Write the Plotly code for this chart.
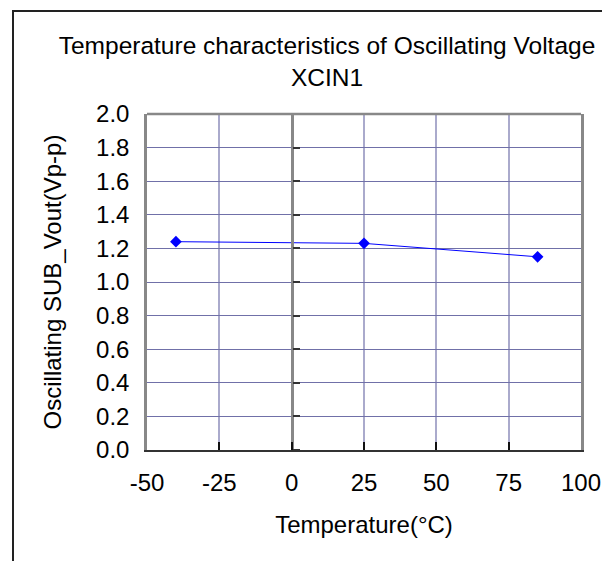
import plotly.graph_objects as go

# ---- data ----
temperature_c = [-40, 25, 85]
vout_vpp = [1.24, 1.23, 1.15]
x_ticks = [-50, -25, 0, 25, 50, 75, 100]
y_ticks = [0.0, 0.2, 0.4, 0.6, 0.8, 1.0, 1.2, 1.4, 1.6, 1.8, 2.0]

title_text = "Temperature characteristics of Oscillating Voltage<br>XCIN1"
x_title = "Temperature(°C)"
y_title = "Oscillating SUB_Vout(Vp-p)"

W, H = 610, 561
ML, MR, MT, MB = 139, 37, 106, 119
FONT = "Liberation Sans, Arial, sans-serif"

fig = go.Figure()
fig.add_trace(go.Scatter(
    x=temperature_c, y=vout_vpp, mode="lines+markers",
    line=dict(color="#0000FF", width=1),
    marker=dict(symbol="diamond", size=9, color="#0000FF"),
    showlegend=False, hoverinfo="x+y",
))
# invisible trace so the crossing axis at x=0 is drawn
fig.add_trace(go.Scatter(
    x=temperature_c, y=vout_vpp, yaxis="y2", mode="markers",
    marker=dict(opacity=0), showlegend=False, hoverinfo="skip",
))

pw = W - ML - MR
ph = H - MT - MB
def px_x(p):
    return (p - ML) / pw
def px_y(p):
    return (H - MB - p) / ph

fig.update_layout(
    width=W, height=H,
    margin=dict(l=ML, r=MR, t=MT, b=MB, autoexpand=False),
    paper_bgcolor="white", plot_bgcolor="white",
    font=dict(family=FONT, size=24, color="black"),
    title=dict(text=title_text, x=319 / W, xref="container", xanchor="center",
               y=1 - 46 / H, yref="container", yanchor="top",
               font=dict(size=24.5, color="black")),
    xaxis=dict(
        range=[x_ticks[0], x_ticks[-1]], tickvals=x_ticks, ticktext=[str(v) for v in x_ticks],
        showgrid=True, gridcolor="#AAAACC", gridwidth=1.5,
        zeroline=False, showline=True, linecolor="#333333", linewidth=2,
        ticks="inside", ticklen=8, tickcolor="#111111", tickwidth=2,
        ticklabelstandoff=10,
        title=dict(text=x_title, standoff=21, font=dict(size=24)),
    ),
    yaxis=dict(
        range=[y_ticks[0], y_ticks[-1]], tickvals=y_ticks,
        ticktext=[f"{v:.1f}" for v in y_ticks],
        showgrid=True, gridcolor="#7070A8", gridwidth=1,
        zeroline=False, showline=True, linecolor="#888888", linewidth=2.5, mirror=True,
        ticks="", ticklabelstandoff=10,
        title=dict(text=y_title, standoff=28, font=dict(size=24)),
    ),
    yaxis2=dict(
        overlaying="y", anchor="free", position=(0 - x_ticks[0]) / (x_ticks[-1] - x_ticks[0]),
        side="right", range=[y_ticks[0], y_ticks[-1]], tickvals=y_ticks,
        showticklabels=False, showgrid=False, zeroline=False,
        showline=True, linecolor="#888888", linewidth=2.5,
        ticks="outside", ticklen=7, tickcolor="#333333", tickwidth=1.5,
    ),
    shapes=[
        dict(type="line", xref="paper", yref="paper", x0=0, x1=1, y0=1, y1=1,
             line=dict(color="#888888", width=2.5)),
        dict(type="rect", xref="paper", yref="paper",
             x0=px_x(5), x1=px_x(W + 20), y0=px_y(H + 20), y1=px_y(3),
             line=dict(color="#222222", width=2), layer="below"),
    ],
)

fig.write_html("out.html")
